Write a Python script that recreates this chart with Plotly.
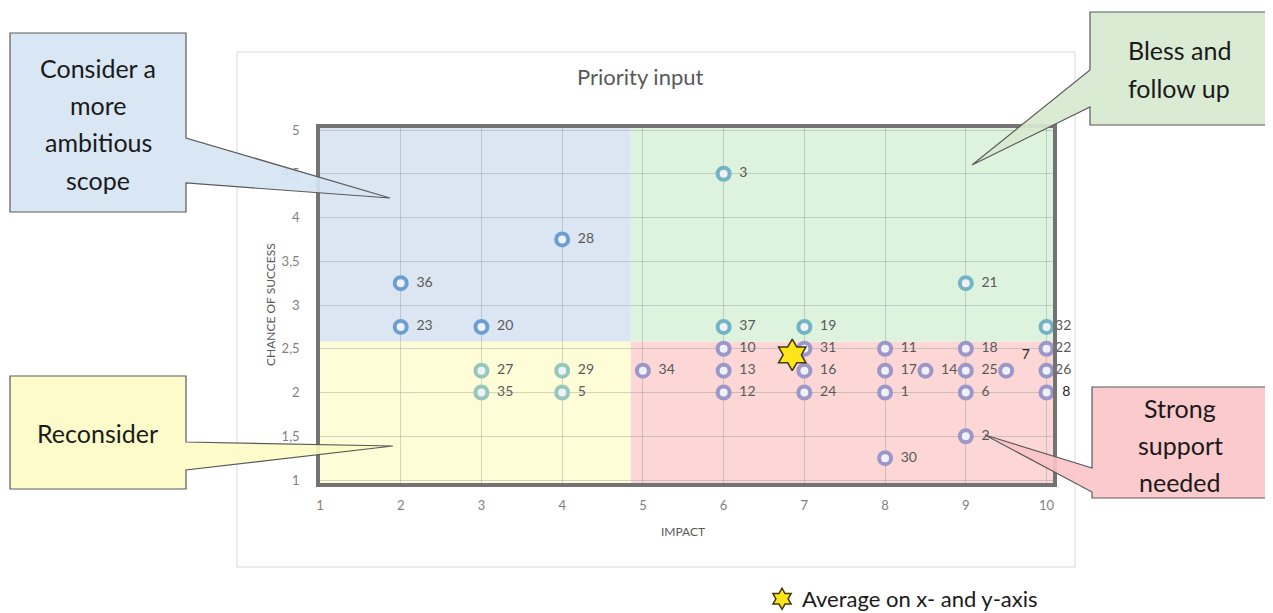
import plotly.graph_objects as go

# ---------------- data ----------------
project_ids = [1, 2, 3, 5, 6, 7, 8, 10, 11, 12, 13, 14, 16, 17, 18, 19, 20, 21, 22,
               23, 24, 25, 26, 27, 28, 29, 30, 31, 32, 34, 35, 36, 37]
impact = [8, 9, 6, 4, 9, 9.5, 10, 6, 8, 6, 6, 8.5, 7, 8, 9, 7, 3, 9, 10,
          2, 7, 9, 10, 3, 4, 4, 8, 7, 10, 5, 3, 2, 6]
chance = [2.0, 1.5, 4.5, 2.0, 2.0, 2.25, 2.0, 2.5, 2.5, 2.0, 2.25, 2.25, 2.25, 2.25, 2.5, 2.75, 2.75, 3.25, 2.5,
          2.75, 2.0, 2.25, 2.25, 2.25, 3.75, 2.25, 1.25, 2.5, 2.75, 2.25, 2.0, 3.25, 2.75]
label_above = [7]          # labels drawn above-right of the marker
dark_labels = [7, 8]
tight_labels = [32, 22, 26]

avg_impact = [6.85]
avg_chance = [2.43]

impact_split = 4.85
chance_split = 2.58

x_ticks = [1, 2, 3, 4, 5, 6, 7, 8, 9, 10]
y_ticks = [1, 1.5, 2, 2.5, 3, 3.5, 4, 4.5, 5]
y_ticktext = ["1", "1,5", "2", "2,5", "3", "3,5", "4", "4,5", "5"]

title_text = "Priority input"
x_title = "IMPACT"
y_title = "CHANCE OF SUCCESS"
legend_text = "Average on x- and y-axis"

callouts = {
    "blue": ["Consider a", "more", "ambitious", "scope"],
    "yellow": ["Reconsider"],
    "green": ["Bless and", "follow up"],
    "red": ["Strong", "support", "needed"],
}

# ---------------- layout geometry (screen pixels) ----------------
OFF = 8                     # page body margin
W, H = 1273 - 2 * OFF, 613 - OFF
PL, PR, PT, PB = 320, 1053, 128, 483
X_RANGE = [1, 10.08]
Y_RANGE = [0.966, 5.023]


def px(x, y):
    return (x - PL) / (PR - PL), (PB - y) / (PB - PT)


def path(points):
    s = ""
    for i, (x, y) in enumerate(points):
        a, b = px(x, y)
        s += ("M" if i == 0 else "L") + f"{a:.5f},{b:.5f} "
    return s + "Z"


FONT = "Lato, 'Open Sans', sans-serif"

group_style = {
    "blue": "#6b9fd3",
    "green": "#72b3c4",
    "yellow": "#95c8bb",
    "red": "#9c97c8",
}


def group_of(x, y):
    if x < impact_split:
        return "blue" if y > chance_split else "yellow"
    return "green" if y > chance_split else "red"


def label(pid):
    return f"{pid}" if pid in tight_labels else f"  {pid}"


fig = go.Figure()

for g, col in group_style.items():
    idx = [i for i in range(len(project_ids)) if group_of(impact[i], chance[i]) == g]
    for pos in ["middle right", "top right"]:
        sub = [i for i in idx if (project_ids[i] in label_above) == (pos == "top right")]
        if not sub:
            continue
        fig.add_trace(go.Scatter(
            x=[impact[i] for i in sub], y=[chance[i] for i in sub],
            mode="markers+text",
            text=[label(project_ids[i]) for i in sub],
            textposition=pos,
            textfont=dict(family=FONT, size=14,
                          color=["#262626" if project_ids[i] in dark_labels else "#595959" for i in sub]),
            marker=dict(symbol="circle", size=12, color="#eef2f8",
                        line=dict(color=col, width=4)),
            cliponaxis=False, showlegend=False, hoverinfo="skip"))

fig.add_trace(go.Scatter(
    x=avg_impact, y=avg_chance, mode="markers", name=legend_text,
    marker=dict(symbol="hexagram", size=24, color="#ffe41a",
                line=dict(color="#3d3a10", width=1.5)),
    cliponaxis=False, showlegend=True))

shapes = []
# outer chart frame
x0, y0 = px(237, 567)
x1, y1 = px(1075, 52)
shapes.append(dict(type="rect", xref="paper", yref="paper", x0=x0, y0=y0, x1=x1, y1=y1,
                   line=dict(color="#d9d9d9", width=1), fillcolor="rgba(0,0,0,0)", layer="below"))
# quadrant backgrounds
quad = [
    (X_RANGE[0], impact_split, chance_split, Y_RANGE[1], "#dce6f2"),
    (X_RANGE[0], impact_split, Y_RANGE[0], chance_split, "#fefdd8"),
    (impact_split, X_RANGE[1], chance_split, Y_RANGE[1], "#def3de"),
    (impact_split, X_RANGE[1], Y_RANGE[0], chance_split, "#fdd6d6"),
]
for a, b, c, d, col in quad:
    shapes.append(dict(type="rect", xref="x", yref="y", x0=a, x1=b, y0=c, y1=d,
                       fillcolor=col, line=dict(width=0), layer="below"))

# callout boxes with pointers (screen pixel geometry)
call_geo = {
    "blue": ([(10, 33), (186, 33), (186, 138), (390, 198), (186, 183), (186, 212), (10, 212)],
             "rgba(214,228,243,0.92)"),
    "yellow": ([(10, 376), (186, 376), (186, 442), (393, 446), (186, 470), (186, 489), (10, 489)],
               "rgba(253,251,196,0.9)"),
    "green": ([(1090, 12), (1268, 12), (1268, 125), (1090, 125), (1090, 107), (972, 165), (1090, 70)],
              "rgba(215,233,208,0.92)"),
    "red": ([(1092, 387), (1268, 387), (1268, 498), (1092, 498), (1092, 492), (985, 435), (1092, 468)],
            "rgba(251,196,198,0.9)"),
}
for k, (pts, col) in call_geo.items():
    shapes.append(dict(type="path", xref="paper", yref="paper", path=path(pts),
                       fillcolor=col, line=dict(color="#5a5a5a", width=1.2), layer="above"))

annotations = []
text_pos = {
    "blue": (98, [68, 105, 142, 180]),
    "yellow": (97, [433]),
    "green": (1179, [50, 88]),
    "red": (1180, [408, 445, 482]),
}
for k, (cx, ys) in text_pos.items():
    for line, yy in zip(callouts[k], ys):
        a, b = px(cx, yy)
        annotations.append(dict(xref="paper", yref="paper", x=a, y=b, text=line, showarrow=False,
                                xanchor="center", yanchor="middle",
                                font=dict(family=FONT, size=25, color="#1a1a1a")))

a, b = px(640, 77)
annotations.append(dict(xref="paper", yref="paper", x=a, y=b, text=title_text, showarrow=False,
                        xanchor="center", yanchor="middle",
                        font=dict(family=FONT, size=22, color="#595959")))
a, b = px(683, 531)
annotations.append(dict(xref="paper", yref="paper", x=a, y=b, text=x_title, showarrow=False,
                        xanchor="center", yanchor="middle",
                        font=dict(family=FONT, size=12, color="#595959")))
a, b = px(270, 305)
annotations.append(dict(xref="paper", yref="paper", x=a, y=b, text=y_title, showarrow=False,
                        textangle=-90, xanchor="center", yanchor="middle",
                        font=dict(family=FONT, size=12, color="#595959")))

lx, ly = px(762, 620)

fig.update_layout(
    width=W, height=H,
    margin=dict(l=PL - OFF, r=W - (PR - OFF), t=PT - OFF, b=H - (PB - OFF), pad=0,
                autoexpand=False),
    paper_bgcolor="white", plot_bgcolor="white",
    font=dict(family=FONT),
    shapes=shapes, annotations=annotations,
    legend=dict(x=lx, y=ly, xanchor="left", yanchor="bottom", bgcolor="rgba(0,0,0,0)",
                font=dict(family=FONT, size=22, color="#1a1a1a"), itemwidth=30,
                borderwidth=0, tracegroupgap=0),
    xaxis=dict(range=X_RANGE, tickvals=x_ticks, showgrid=True,
               gridcolor="rgba(120,140,140,0.35)", gridwidth=1, zeroline=False,
               showline=True, mirror=True, linecolor="#737373", linewidth=3.5,
               tickfont=dict(family=FONT, size=13, color="#7f7f7f"), ticks="",
               ticklabelstandoff=8),
    yaxis=dict(range=Y_RANGE, tickvals=y_ticks, ticktext=y_ticktext, showgrid=True,
               gridcolor="rgba(120,140,140,0.35)", gridwidth=1, zeroline=False,
               showline=True, mirror=True, linecolor="#737373", linewidth=3.5,
               tickfont=dict(family=FONT, size=13, color="#7f7f7f"), ticks="",
               ticklabelstandoff=14),
)

fig.write_html("out.html")
